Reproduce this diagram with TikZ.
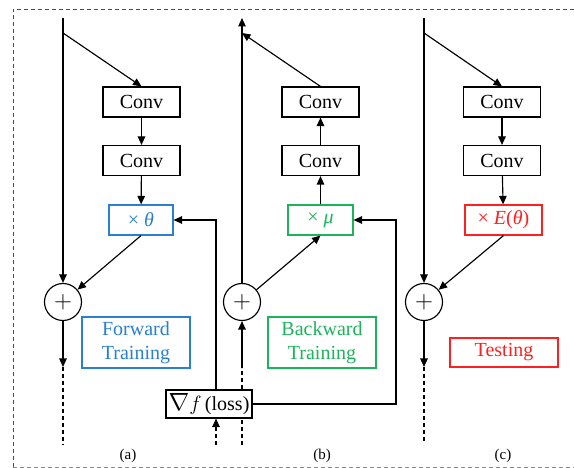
\documentclass[tikz,border=0pt]{standalone}
\usepackage{fontspec}
\setmainfont{Liberation Serif}
\usetikzlibrary{arrows.meta}
\definecolor{fwblue}{HTML}{2A7FD0}
\definecolor{bwgreen}{HTML}{1DB35C}
\definecolor{tsred}{HTML}{FF1F1F}
\begin{document}
\begin{tikzpicture}[x=1pt,y=-1pt,line width=1.15pt,
  >={Triangle[length=8.5pt,width=7.5pt]},
  box/.style={draw,rectangle,inner sep=0pt,minimum height=30pt,font=\fontsize{20}{23}\selectfont},
  conv/.style={box,minimum width=77pt},
  sum/.style={draw,circle,minimum size=37pt,inner sep=0pt,font=\fontsize{27}{27}\selectfont},
  tag/.style={draw,align=center,inner sep=0pt,minimum width=108pt,font=\fontsize{20}{23.5}\selectfont},
  captext/.style={font=\fontsize{15}{16}\selectfont},
  dashline/.style={dash pattern=on 4pt off 3pt},
  frame/.style={dash pattern=on 4pt off 3pt,line width=0.8pt}]
\useasboundingbox (0,0) rectangle (574,468);

% outer dashed frame
\draw[frame,black!70] (13,467) -- (13,9) -- (580,9);
\draw[frame,black!45] (13,467) -- (580,467);

% ---------- (a) forward training ----------
\node[conv] (a1) at (141.5,102) {Conv};
\node[conv] (a2) at (141.5,160.5) {Conv};
\node[box,draw=fwblue,text=fwblue,minimum width=64pt] (am) at (141,220) {× \textit{θ}};
\node[sum] (ap) at (63,302) {$+$};
\node[tag,draw=fwblue,text=fwblue,minimum height=51pt] (at) at (136,342.5) {Forward\\Training};
\coordinate (atop) at (63,18);
\coordinate (abr) at (63,33);
\coordinate (aout) at (63,367);
\coordinate (aend) at (63,445);
\draw[->] (atop) -- (ap);
\draw[->] (abr) -- (a1.north);
\draw[->] (a1) -- (a2);
\draw[->] (a2) -- (am);
\draw[->] (am.south) -- (ap);
\draw[->] (ap) -- (aout);
\draw[dashline] (aout) -- (aend);
\node[captext] (alab) at (128,456) {(a)};

% ---------- (b) backward training ----------
\node[conv] (b1) at (320.5,102) {Conv};
\node[conv] (b2) at (320.5,160.5) {Conv};
\node[box,draw=bwgreen,text=bwgreen,minimum width=65pt] (bm) at (320.5,220) {× \textit{μ}};
\node[sum] (bp) at (242,302) {$+$};
\node[tag,draw=bwgreen,text=bwgreen,minimum height=51pt] (bt) at (322,342.5) {Backward\\Training};
\coordinate (btop) at (242,18);
\coordinate (bbr) at (242,33);
\coordinate (bin) at (242,368);
\coordinate (bend) at (242,445);
\draw[->] (bp) -- (btop);
\draw[->] (b1.north) -- (bbr);
\draw[->] (bm) -- (b2);
\draw[->] (b2) -- (b1);
\draw[->] (bp) -- (bm.south);
\draw[dashline] (bend) -- (bin);
\draw[->] (bin) -- (bp);
\node[captext] (blab) at (322,456) {(b)};

% gradient of the loss feeds both multipliers
\node[box,fill=white,minimum width=86pt,minimum height=28pt] (loss) at (209,404) {{\fontsize{24}{24}\selectfont$\nabla$}$f\,$(loss)};
\coordinate (lup) at (216,390);
\coordinate (ldn) at (216,445);
\draw[->] (lup) |- (am.east);
\draw[->] (loss.east) -- (396,404) |- (bm.east);
\draw[dashline,->] (ldn) -- (ldn |- loss.south);

% ---------- (c) testing ----------
\node[conv] (c1) at (502,102) {Conv};
\node[conv] (c2) at (502,160.5) {Conv};
\node[box,draw=tsred,text=tsred,minimum width=77pt] (cm) at (503.5,220) {× \textit{E}(\textit{θ})};
\node[sum] (cp) at (424,302) {$+$};
\node[tag,draw=tsred,text=tsred,minimum height=29pt] (ct) at (504,352.5) {Testing};
\coordinate (ctop) at (424,18);
\coordinate (cbr) at (424,33);
\coordinate (cout) at (424,367);
\coordinate (cend) at (424,443);
\draw[->] (ctop) -- (cp);
\draw[->] (cbr) -- (c1.north);
\draw[->] (c1) -- (c2);
\draw[->] (c2) -- (cm);
\draw[->] (cm.south) -- (cp);
\draw[->] (cp) -- (cout);
\draw[dashline] (cout) -- (cend);
\node[captext] (clab) at (503,456) {(c)};
\end{tikzpicture}
\end{document}
